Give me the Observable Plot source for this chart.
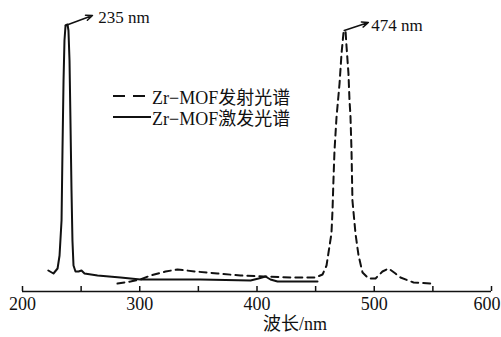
<!DOCTYPE html>
<html>
<head>
<meta charset="utf-8">
<script src="https://cdn.jsdelivr.net/npm/d3@7"></script>
<script src="https://cdn.jsdelivr.net/npm/@observablehq/plot@0.6"></script>
<style>
  html, body { margin: 0; padding: 0; background: #fff; }
  #wrap { position: relative; width: 501px; height: 337px; }
  #legend { position: absolute; left: 112px; top: 85px; font-size: 18px; color: #111; font-family: "Liberation Serif", "Times New Roman", Tinos, "Noto Sans CJK SC", serif; }
  .row { display: flex; align-items: center; height: 21px; white-space: nowrap; }
  .row svg { width: 40px; height: 12px; }
</style>
</head>
<body>
<div id="wrap"></div>
<script>
// Excitation spectrum (solid)
const excWl = [222, 226.4, 229.9, 231.6, 233.3, 234.1, 235, 235.8, 236.7, 238.4, 239.2, 240.1, 240.9, 241.8, 242.6, 243.5, 245.2, 247.8, 250.3, 252.9, 264, 283.6, 300.6, 351.8, 394.5, 401.3, 407.2, 411.5, 417.5, 451.6];
const excI  = [21, 18, 23, 36, 71, 141, 211, 251, 266, 267, 261, 231, 171, 101, 51, 26, 20, 20, 21, 18, 16, 14, 12, 12, 11, 13, 15, 12, 10, 10];
// Emission spectrum (dashed)
const emWl = [281, 292.1, 300.6, 309.2, 322, 332.2, 347.5, 366.3, 385.9, 405.5, 428.6, 449.9, 455.9, 459.3, 461, 463.5, 464.4, 465.2, 466.1, 467.8, 470.4, 472.1, 473.8, 475.5, 476.3, 478, 478.9, 479.7, 480.6, 481.4, 484, 486.6, 490, 495.1, 501.1, 507, 512.2, 518.1, 522.4, 533.5, 549.7];
const emI  = [8, 10, 12, 16, 20, 22, 20, 18, 16, 15, 14, 14, 17, 26, 39, 58, 81, 111, 141, 174, 208, 238, 259, 261, 246, 218, 191, 176, 141, 91, 58, 36, 19, 13, 13, 20, 23, 18, 14, 9, 8];
// Axis ticks
const xTicks = [200, 250, 300, 350, 400, 450, 500, 550, 600];
const xTickLabels = [200, 300, 400, 500, 600];
// Peak annotations (data units)
const peakText = ["235 nm", "474 nm"];
const peakX = [236.7, 474.4];
const peakY = [266, 261];
const arrowEndX = [259.7, 495];
const arrowEndY = [276, 269];
const labelX = [264.5, 497.5];
const labelY = [274, 266];
// Legend
const seriesNames = ["Zr−MOF发射光谱", "Zr−MOF激发光谱"];

const exc = excWl.map((w, i) => ({w, v: excI[i]}));
const em = emWl.map((w, i) => ({w, v: emI[i]}));
const ann = peakText.map((t, i) => ({t, x1: peakX[i], y1: peakY[i], x2: arrowEndX[i], y2: arrowEndY[i], lx: labelX[i], ly: labelY[i]}));
const lastTick = xTickLabels[xTickLabels.length - 1];

const ink = "#111";
const FONT = '"Liberation Serif", "Times New Roman", Tinos, "Noto Sans CJK SC", serif';
const chart = Plot.plot({
  width: 501, height: 337,
  marginLeft: 22, marginRight: 10, marginTop: 21, marginBottom: 46,
  x: {domain: [200, 600], axis: null},
  y: {domain: [0, 270], axis: null},
  style: {background: "transparent", color: ink},
  marks: [
    Plot.ruleY([0], {x1: 200, x2: 600, stroke: ink, strokeWidth: 1.5}),
    Plot.ruleX(xTicks, {y1: 0, y2: 5, stroke: ink, strokeWidth: 1.5}),
    Plot.text(xTickLabels.filter(d => d !== lastTick), {x: d => d, y: 0, text: d => String(d), dy: 13, lineAnchor: "middle", fontSize: 18, fontFamily: FONT, fill: ink}),
    Plot.text([lastTick], {x: d => d, y: 0, text: d => String(d), dy: 13, dx: 9, textAnchor: "end", lineAnchor: "middle", fontSize: 18, fontFamily: FONT, fill: ink}),
    Plot.text(["波长/nm"], {frameAnchor: "bottom", dx: 38, dy: 38, fontSize: 18, fontFamily: FONT, fill: ink}),
    Plot.line(em, {x: "w", y: "v", stroke: ink, strokeWidth: 2, strokeDasharray: "7,5"}),
    Plot.line(exc, {x: "w", y: "v", stroke: ink, strokeWidth: 2}),
    Plot.arrow(ann, {x1: "x1", y1: "y1", x2: "x2", y2: "y2", stroke: ink, strokeWidth: 1.5, headLength: 7, headAngle: 45}),
    Plot.text(ann, {x: "lx", y: "ly", text: "t", textAnchor: "start", fontSize: 17, fontFamily: FONT, fill: ink})
  ]
});
const wrap = document.getElementById("wrap");
wrap.appendChild(chart);

const legend = document.createElement("div");
legend.id = "legend";
seriesNames.forEach((name, i) => {
  const row = document.createElement("div");
  row.className = "row";
  const dash = i === 0 ? 'stroke-dasharray="12,8"' : '';
  row.innerHTML = `<svg viewBox="0 0 40 12"><line x1="1" x2="39" y1="6" y2="6" stroke="${ink}" stroke-width="2.2" ${dash}/></svg><span>${name}</span>`;
  legend.appendChild(row);
});
wrap.appendChild(legend);
</script>
</body>
</html>
